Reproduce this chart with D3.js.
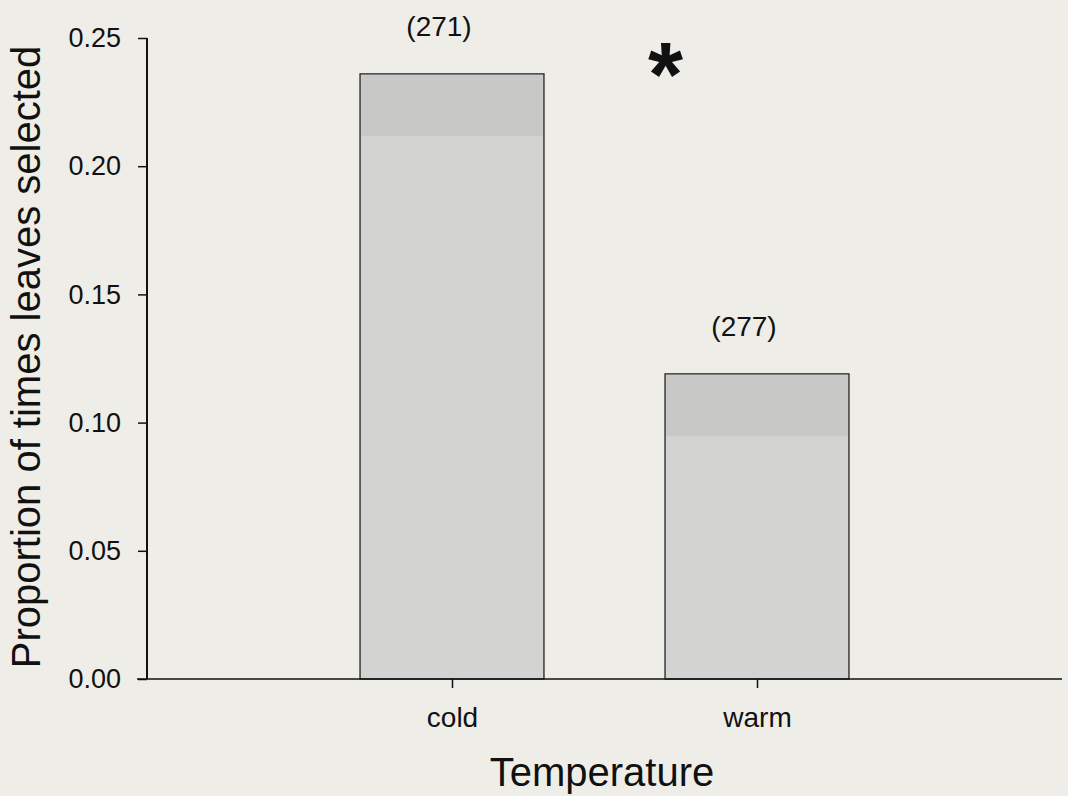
<!DOCTYPE html>
<html>
<head>
<meta charset="utf-8">
<script src="https://cdn.jsdelivr.net/npm/d3@7"></script>
<style>
  body { margin: 0; background: #efede8; }
  svg { display: block; font-family: Arial, "Liberation Sans", sans-serif; }
</style>
</head>
<body>
<div id="chart"></div>
<script>
// chart data
var categories = ["cold", "warm"];
var proportions = [0.236, 0.119];
var sampleSizes = ["(271)", "(277)"];
var yTicks = [0, 0.05, 0.10, 0.15, 0.20, 0.25];

var svgWidth = 1068;
var svgHeight = 796;

var svg = d3.select("#chart")
  .append("svg")
  .attr("width", svgWidth)
  .attr("height", svgHeight);

svg.append("rect")
  .attr("width", svgWidth)
  .attr("height", svgHeight)
  .attr("fill", "#efede8");

// scales
var xScale = d3.scalePoint()
  .domain(categories)
  .range([147, 1062])
  .padding(1);

var yScale = d3.scaleLinear()
  .domain([0, 0.25])
  .range([679, 38]);

var barWidth = xScale.step() * 0.603;

// bars
svg.selectAll(".bar")
  .data(categories)
  .enter()
  .append("rect")
  .attr("class", "bar")
  .attr("x", (d, i) => xScale(d) - barWidth / 2)
  .attr("y", (d, i) => yScale(proportions[i]))
  .attr("width", barWidth)
  .attr("height", (d, i) => yScale(0) - yScale(proportions[i]))
  .attr("fill", "#d3d3d1")
  .attr("stroke", "#222")
  .attr("stroke-width", 1.3);

// slightly darker stippled band near the top of each bar
svg.selectAll(".barTop")
  .data(categories)
  .enter()
  .append("rect")
  .attr("x", d => xScale(d) - barWidth / 2 + 1)
  .attr("y", (d, i) => yScale(proportions[i]) + 1)
  .attr("width", barWidth - 2)
  .attr("height", 61)
  .attr("fill", "#c8c8c6");

// y axis
var leftAxis = d3.axisLeft(yScale)
  .tickValues(yTicks)
  .tickFormat(d3.format(".2f"))
  .tickSize(9)
  .tickPadding(17);

var yAxis = svg.append("g")
  .attr("transform", "translate(147, 0)")
  .call(leftAxis);
yAxis.select(".domain").attr("stroke", "#111").attr("stroke-width", 2).attr("d", "M0,38V679");
yAxis.selectAll(".tick line").attr("stroke", "#111").attr("stroke-width", 1.5);
yAxis.selectAll(".tick text")
  .attr("font-size", "27px")
  .attr("fill", "#111");

// x axis
var bottomAxis = d3.axisBottom(xScale)
  .tickSize(9)
  .tickPadding(19);

var xAxis = svg.append("g")
  .attr("transform", "translate(0, 679)")
  .call(bottomAxis);
xAxis.select(".domain").attr("stroke", "#111").attr("stroke-width", 1.5).attr("d", "M137,0H1062");
xAxis.selectAll(".tick line").attr("stroke", "#111").attr("stroke-width", 1.5);
xAxis.selectAll(".tick text")
  .attr("font-size", "28px")
  .attr("fill", "#111");

// sample size labels above bars
svg.selectAll(".nLabel")
  .data(categories)
  .enter()
  .append("text")
  .attr("class", "nLabel")
  .attr("x", d => xScale(d) - 13)
  .attr("y", (d, i) => yScale(proportions[i]) - 38)
  .attr("text-anchor", "middle")
  .attr("font-size", "28px")
  .attr("fill", "#111")
  .text((d, i) => sampleSizes[i]);

// significance asterisk
svg.append("text")
  .attr("x", (xScale("cold") + xScale("warm")) / 2 + 61)
  .attr("y", 106)
  .attr("text-anchor", "middle")
  .attr("font-size", "90px")
  .attr("font-weight", "bold")
  .attr("fill", "#111")
  .text("*");

// axis titles
svg.append("text")
  .attr("x", 602)
  .attr("y", 786)
  .attr("text-anchor", "middle")
  .attr("font-size", "40px")
  .attr("fill", "#111")
  .text("Temperature");

svg.append("text")
  .attr("transform", "translate(40, 357) rotate(-90)")
  .attr("text-anchor", "middle")
  .attr("font-size", "40px")
  .attr("fill", "#111")
  .text("Proportion of times leaves selected");
</script>
</body>
</html>
